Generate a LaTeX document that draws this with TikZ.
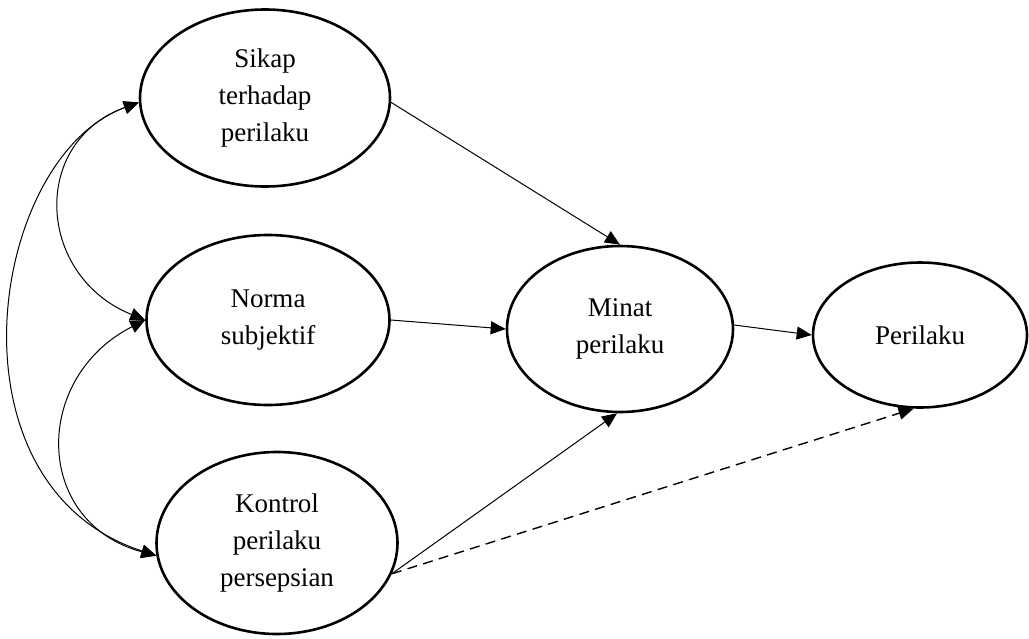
\documentclass[tikz,border=0pt]{standalone}
\usepackage{fontspec}
\setmainfont{Liberation Serif}
\usetikzlibrary{shapes.geometric,arrows.meta}

\begin{document}
\begin{tikzpicture}[x=0.5pt,y=0.5pt,
    konstruk/.style={draw,ellipse,line width=1.3pt,inner sep=0pt,align=center,
      font=\fontsize{13.5}{18.5}\selectfont},
    panah/.style={-{Triangle[length=7.5pt,width=6.5pt]},line width=0.5pt},
    panahdua/.style={{Triangle[length=7.5pt,width=6.5pt]}-{Triangle[length=7.5pt,width=6.5pt]},line width=0.5pt}]
    \useasboundingbox (0,0) rectangle (1029,-638);
    % konstruk
    \node[konstruk,minimum width=125pt,minimum height=88.5pt] (sikap) at (265,-98) {Sikap\\terhadap\\perilaku};
    \node[konstruk,minimum width=121.5pt,minimum height=85pt] (norma) at (268,-320) {Norma\\subjektif};
    \node[konstruk,minimum width=120.5pt,minimum height=91pt] (kontrol) at (277,-543) {Kontrol\\perilaku\\persepsian};
    \node[konstruk,minimum width=113pt,minimum height=83pt] (minat) at (620,-329) {Minat\\perilaku};
    \node[konstruk,minimum width=107pt,minimum height=72.5pt] (perilaku) at (920,-335) {Perilaku};
    % korelasi
    \draw[panahdua] (sikap.182) to[out=200,in=158,looseness=1.37] (norma.west);
    \draw[panahdua] (norma.west) to[out=207,in=165,looseness=1.38] (kontrol.186);
    \draw[panahdua] (sikap.182) to[out=200,in=162,out looseness=0.9,in looseness=1.28] (kontrol.186);
    % pengaruh
    \draw[panah] (sikap.358) -- (minat.north);
    \draw[panah] (norma.east) -- (minat.west);
    \draw[panah] (kontrol.345) -- (minat.268);
    \draw[panah] (minat.2) -- (perilaku.west);
    \draw[panah,line width=0.7pt,dash pattern=on 5pt off 3.2pt] (kontrol.345) -- (perilaku.265);
\end{tikzpicture}
\end{document}
